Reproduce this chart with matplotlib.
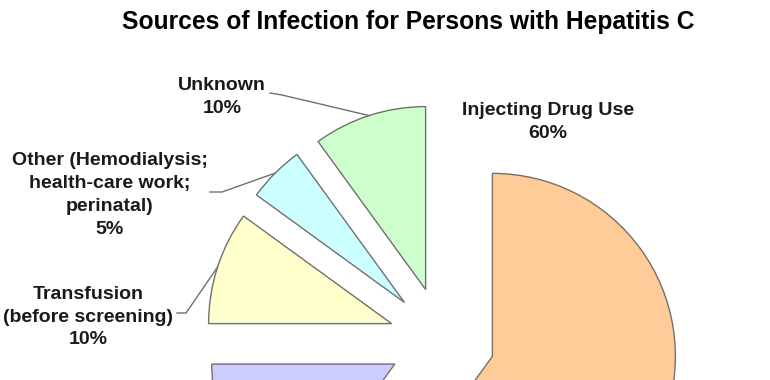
import numpy as np
import matplotlib.pyplot as plt

plt.rcParams['font.family'] = ['Liberation Sans', 'DejaVu Sans']

# data
sources = ['Injecting Drug Use', 'Sexual', 'Transfusion\n(before screening)',
           'Other (Hemodialysis;\nhealth-care work;\nperinatal)', 'Unknown']
shares = [60, 15, 10, 5, 10]
colors = ['#FFCC99', '#CCCCFF', '#FFFFCC', '#CCFFFF', '#CCFFCC']

W, H = 770, 380
# label placement in pixel coords (x, y from top); the Sexual label falls
# below the visible area in the original, so it is not drawn
label_pos = [(548, 122), None, (88, 317), (110, 195), (222, 97)]
leader_start = [None, None, (177, 313), (210, 192), (270, 93)]
leader_elbow = [None, None, (186, 313), (222, 192), (282, 95)]

fig = plt.figure(figsize=(W / 100, H / 100), dpi=100)
ax = fig.add_axes([0, 0, 1, 1])

R = 183
wedges, _ = ax.pie(shares, colors=colors, startangle=90, counterclock=False,
                   radius=R, center=(442, H - 340), explode=[53] * len(shares),
                   wedgeprops=dict(edgecolor='#707070', linewidth=1.0))
ax.set_xlim(0, W)
ax.set_ylim(0, H)
ax.set_aspect('equal')
ax.axis('off')

for w, src, pct, pos, st, el in zip(wedges, sources, shares, label_pos,
                                     leader_start, leader_elbow):
    if pos is None:
        continue
    ax.text(pos[0], H - pos[1], f'{src}\n{pct}%', ha='center', va='center',
            fontsize=14, fontweight='bold', color='#1a1a1a', linespacing=1.45)
    if st is None:
        continue
    a = np.deg2rad((w.theta1 + w.theta2) / 2)
    px = w.center[0] + R * np.cos(a)
    py = w.center[1] + R * np.sin(a)
    ax.plot([st[0], el[0], px], [H - st[1], H - el[1], py],
            color='#707070', lw=1.0)

fig.text(408 / W, 1 - 22 / H, 'Sources of Infection for Persons with Hepatitis C',
         ha='center', va='center', fontsize=17.7, fontweight='bold', color='black')

fig.savefig('out.png', dpi=100)
